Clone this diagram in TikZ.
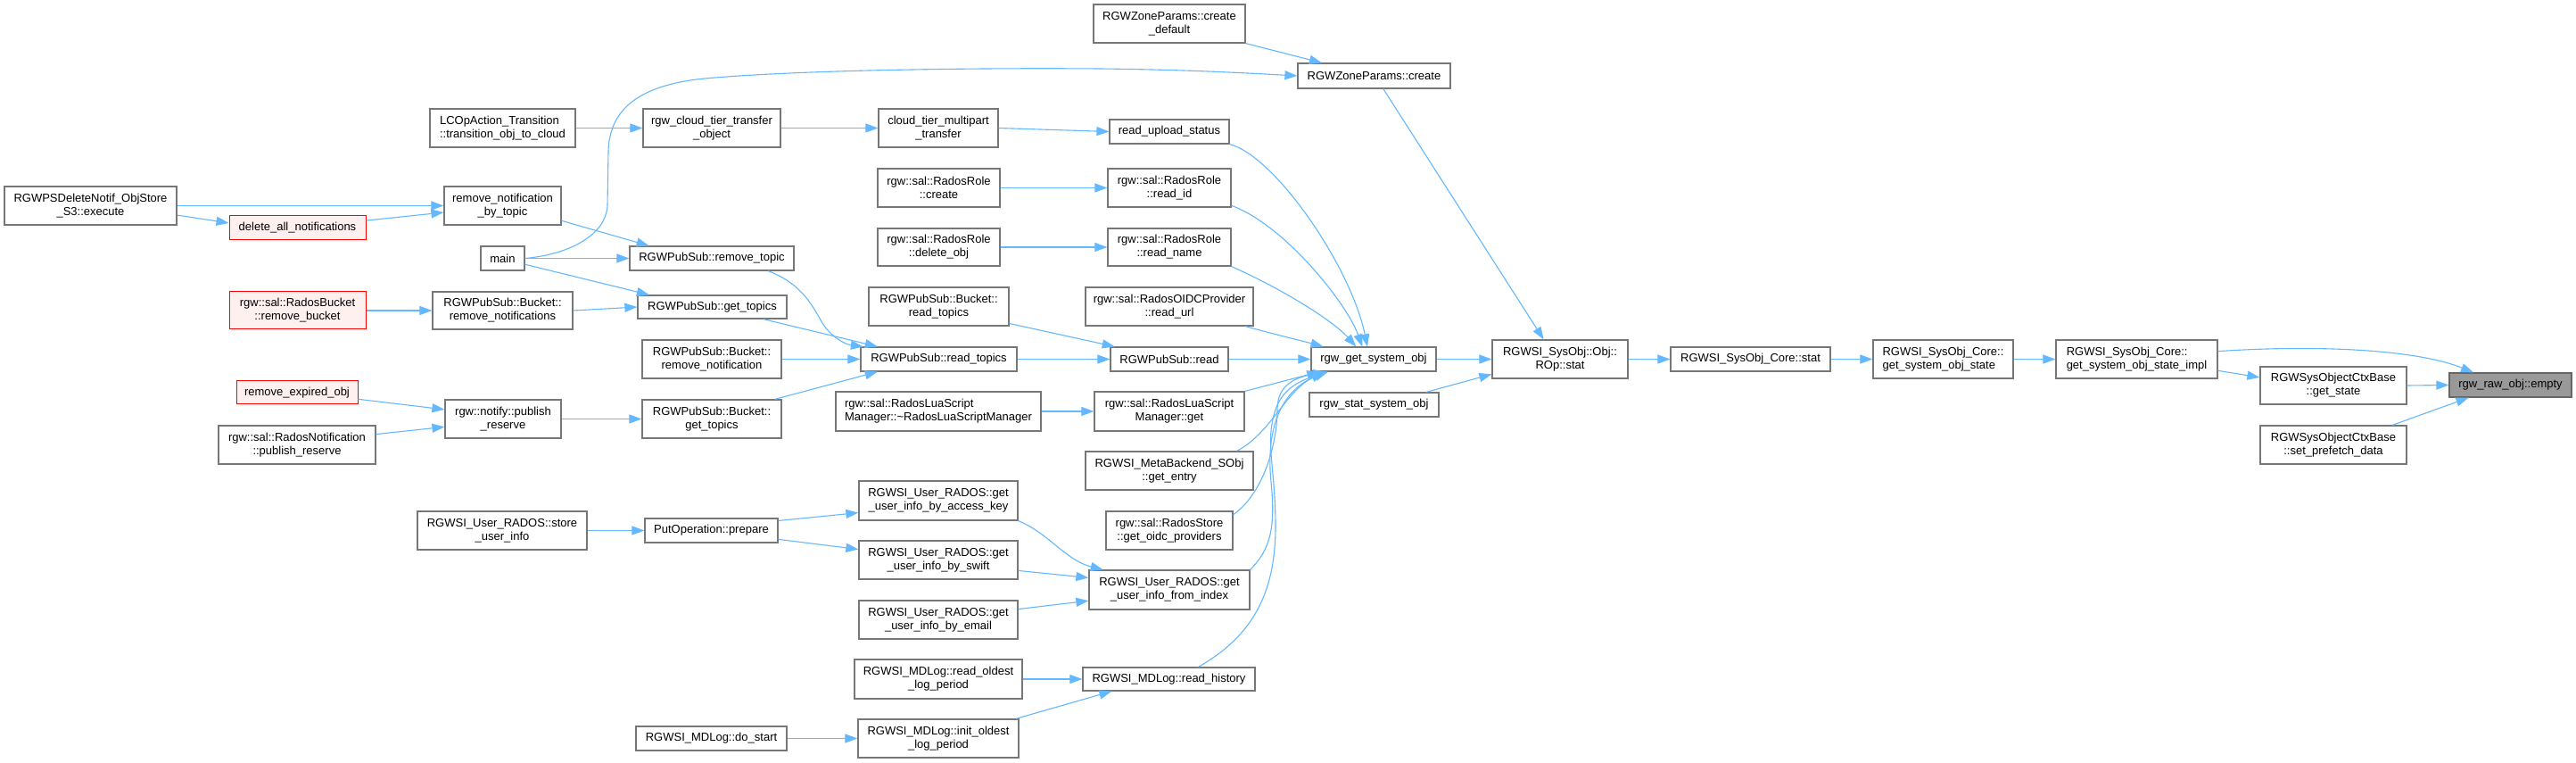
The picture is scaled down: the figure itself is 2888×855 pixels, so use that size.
\documentclass[tikz,border=0pt]{standalone}
\usepackage{fontspec}
\setmainfont{Liberation Sans}
\usetikzlibrary{arrows.meta,calc}
\definecolor{edgeblue}{HTML}{63B8FF}
\definecolor{boxborder}{HTML}{777777}
\definecolor{rootborder}{HTML}{666666}
\definecolor{redfill}{HTML}{FFF0F0}
\definecolor{rootfill}{HTML}{999999}
\newcommand{\mkbox}[7][]{\node[nbox,#1,minimum width={(#5-#3)*0.5pt},minimum height={(#6-#4)*0.5pt}] (#2) at ({(#3+#5)/2},{(#4+#6)/2}) {#7};}
\begin{document}
\begin{tikzpicture}[x=0.5pt,y=-0.5pt,
 nbox/.style={draw=boxborder,fill=white,line width=0.6pt,inner sep=0pt,align=center,font=\fontsize{6.5}{7.5}\selectfont},
 lbox/.style={align=left},
 redbox/.style={draw=red,fill=redfill,line width=0.5pt},
 rootbox/.style={draw=rootborder,fill=rootfill},
 cedge/.style={draw=edgeblue,line width=0.55pt,-{Triangle[length=7pt,width=5pt]}}]
\fill[white] (0,0) rectangle (2888,855);
\useasboundingbox (0,0) rectangle (2888,855);
% column 1
\mkbox{psdel}{5}{209}{198}{252}{RGWPSDeleteNotif\_ObjStore\\\_S3::execute}
% column 2
\mkbox[redbox]{delall}{257}{242}{410}{269}{delete\_all\_notifications}
\mkbox[redbox]{rmbucket}{257}{327}{410}{369}{rgw::sal::RadosBucket\\::remove\_bucket}
\mkbox[redbox]{rmexp}{265}{427}{401}{453}{remove\_expired\_obj}
\mkbox{radnotif}{245}{477}{421}{520}{rgw::sal::RadosNotification\\::publish\_reserve}
% column 3
\mkbox[lbox]{lcop}{482}{122}{645}{165}{LCOpAction\_Transition\\::transition\_obj\_to\_cloud}
\mkbox{rmnbt}{498}{209}{629}{252}{remove\_notification\\\_by\_topic}
\mkbox{main}{539}{276}{588}{303}{main}
\mkbox{psbrmns}{485}{327}{642}{369}{RGWPubSub::Bucket::\\remove\_notifications}
\mkbox{npr}{499}{448}{629}{491}{rgw::notify::publish\\\_reserve}
\mkbox{storeui}{468}{573}{658}{616}{RGWSI\_User\_RADOS::store\\\_user\_info}
% column 4
\mkbox{cttobj}{721}{122}{875}{165}{rgw\_cloud\_tier\_transfer\\\_object}
\mkbox{rmtopic}{706}{276}{890}{303}{RGWPubSub::remove\_topic}
\mkbox{gettopics}{715}{331}{882}{357}{RGWPubSub::get\_topics}
\mkbox{psbrmn}{720}{381}{876}{424}{RGWPubSub::Bucket::\\remove\_notification}
\mkbox{psbgt}{720}{448}{876}{491}{RGWPubSub::Bucket::\\get\_topics}
\mkbox{putop}{723}{581}{872}{608}{PutOperation::prepare}
\mkbox{dostart}{713}{814}{882}{841}{RGWSI\_MDLog::do\_start}
% column 5
\mkbox{ctmp}{985}{122}{1119}{165}{cloud\_tier\_multipart\\\_transfer}
\mkbox{rrcreate}{984}{189}{1121}{232}{rgw::sal::RadosRole\\::create}
\mkbox{rrdel}{984}{256}{1121}{298}{rgw::sal::RadosRole\\::delete\_obj}
\mkbox{psbrt}{974}{322}{1131}{365}{RGWPubSub::Bucket::\\read\_topics}
\mkbox{psrt}{965}{389}{1140}{416}{RGWPubSub::read\_topics}
\mkbox[lbox]{luadtor}{937}{439}{1167}{483}{rgw::sal::RadosLuaScript\\Manager::\textasciitilde RadosLuaScriptManager}
\mkbox{uiak}{963}{539}{1141}{583}{RGWSI\_User\_RADOS::get\\\_user\_info\_by\_access\_key}
\mkbox{uisw}{963}{606}{1141}{649}{RGWSI\_User\_RADOS::get\\\_user\_info\_by\_swift}
\mkbox{uiem}{963}{673}{1141}{716}{RGWSI\_User\_RADOS::get\\\_user\_info\_by\_email}
\mkbox{mdro}{958}{739}{1146}{783}{RGWSI\_MDLog::read\_oldest\\\_log\_period}
\mkbox{mdinit}{962}{806}{1142}{849}{RGWSI\_MDLog::init\_oldest\\\_log\_period}
% column 6
\mkbox{zpcd}{1226}{5}{1396}{48}{RGWZoneParams::create\\\_default}
\mkbox{rus}{1244}{134}{1378}{161}{read\_upload\_status}
\mkbox{rrid}{1242}{189}{1380}{232}{rgw::sal::RadosRole\\::read\_id}
\mkbox{rrname}{1242}{256}{1380}{298}{rgw::sal::RadosRole\\::read\_name}
\mkbox{oidcurl}{1217}{322}{1405}{365}{rgw::sal::RadosOIDCProvider\\::read\_url}
\mkbox{psread}{1245}{389}{1377}{416}{RGWPubSub::read}
\mkbox{luaget}{1227}{439}{1395}{483}{rgw::sal::RadosLuaScript\\Manager::get}
\mkbox{mbget}{1217}{506}{1405}{549}{RGWSI\_MetaBackend\_SObj\\::get\_entry}
\mkbox{oidcprov}{1240}{573}{1382}{616}{rgw::sal::RadosStore\\::get\_oidc\_providers}
\mkbox{uifi}{1221}{639}{1401}{683}{RGWSI\_User\_RADOS::get\\\_user\_info\_from\_index}
\mkbox{mdrh}{1214}{748}{1407}{774}{RGWSI\_MDLog::read\_history}
% column 7+
\mkbox{zpc}{1455}{71}{1626}{99}{RGWZoneParams::create}
\mkbox{rgso}{1470}{389}{1610}{416}{rgw\_get\_system\_obj}
\mkbox{rsso}{1468}{440}{1613}{467}{rgw\_stat\_system\_obj}
\mkbox{ropstat}{1673}{381}{1825}{424}{RGWSI\_SysObj::Obj::\\ROp::stat}
\mkbox{corestat}{1873}{389}{2052}{416}{RGWSI\_SysObj\_Core::stat}
\mkbox[lbox]{gsos}{2100}{381}{2257}{424}{RGWSI\_SysObj\_Core::\\get\_system\_obj\_state}
\mkbox[lbox]{gsosi}{2305}{381}{2486}{424}{RGWSI\_SysObj\_Core::\\get\_system\_obj\_state\_impl}
\mkbox{ctxgs}{2534}{411}{2698}{453}{RGWSysObjectCtxBase\\::get\_state}
\mkbox{ctxpf}{2534}{477}{2698}{520}{RGWSysObjectCtxBase\\::set\_prefetch\_data}
\mkbox[rootbox]{empty}{2746}{418}{2883}{445}{rgw\_raw\_obj::empty}
% edges
\draw[cedge] (psdel.east) -- (rmnbt.west);
\draw[cedge] ($(psdel.north east)!0.74!(psdel.south east)$) -- ($(delall.north west)!0.3!(delall.south west)$);
\draw[cedge] ($(delall.north east)!0.2!(delall.south east)$) -- ($(rmnbt.north west)!0.67!(rmnbt.south west)$);
\draw[cedge] (lcop.east) -- (cttobj.west);
\draw[cedge] ($(rmnbt.north east)!0.88!(rmnbt.south east)$) -- ($(rmtopic.north west)!0.12!(rmtopic.north east)$);
\draw[cedge] (main.east) .. controls (640,285) and (680,262) .. (681,230) -- (682,170) .. controls (683,120) and (720,95) .. (790,88) .. controls (900,78) and (1100,76) .. (1232,77) .. controls (1330,78) and (1400,82) .. (zpc.west);
\draw[cedge] (main.east) -- (rmtopic.west);
\draw[cedge] ($(main.north east)!0.74!(main.south east)$) -- ($(gettopics.north west)!0.08!(gettopics.north east)$);
\draw[cedge] (rmbucket.east) -- (psbrmns.west);
\draw[cedge] (psbrmns.east) -- (gettopics.west);
\draw[cedge] ($(rmexp.north east)!0.77!(rmexp.south east)$) -- ($(npr.north west)!0.26!(npr.south west)$);
\draw[cedge] ($(radnotif.north east)!0.23!(radnotif.south east)$) -- ($(npr.north west)!0.7!(npr.south west)$);
\draw[cedge] (npr.east) -- (psbgt.west);
\draw[cedge] (storeui.east) -- (putop.west);
\draw[cedge] (dostart.east) -- (mdinit.west);
\draw[cedge] (cttobj.east) -- (ctmp.west);
\draw[cedge] (ctmp.east) -- (rus.west);
\draw[cedge] (zpcd.south east) -- ($(zpc.north west)!0.16!(zpc.north east)$);
\draw[cedge] (rrcreate.east) -- (rrid.west);
\draw[cedge] (rrdel.east) -- (rrname.west);
\draw[cedge] ($(rmtopic.south west)!0.84!(rmtopic.south east)$) .. controls (900,318) and (912,345) .. (922,362) .. controls (932,378) and (948,386) .. ($(psrt.north west)!0.02!(psrt.north east)$);
\draw[cedge] ($(gettopics.south west)!0.84!(gettopics.south east)$) -- ($(psrt.north west)!0.11!(psrt.north east)$);
\draw[cedge] (psbrmn.east) -- (psrt.west);
\draw[cedge] ($(psbgt.north west)!0.95!(psbgt.north east)$) -- ($(psrt.south west)!0.11!(psrt.south east)$);
\draw[cedge] ($(psbrt.north east)!0.93!(psbrt.south east)$) -- ($(psread.north west)!0.04!(psread.north east)$);
\draw[cedge] (psrt.east) -- (psread.west);
\draw[cedge] (luadtor.east) -- (luaget.west);
\draw[cedge] ($(putop.north east)!0.11!(putop.south east)$) -- ($(uiak.north west)!0.8!(uiak.south west)$);
\draw[cedge] ($(putop.north east)!0.85!(putop.south east)$) -- ($(uisw.north west)!0.23!(uisw.south west)$);
\draw[cedge] (uiak.south east) .. controls (1175,597) and (1195,628) .. ($(uifi.north west)!0.09!(uifi.north east)$);
\draw[cedge] ($(uisw.north east)!0.77!(uisw.south east)$) -- ($(uifi.north west)!0.2!(uifi.south west)$);
\draw[cedge] ($(uiem.north east)!0.23!(uiem.south east)$) -- ($(uifi.north west)!0.77!(uifi.south west)$);
\draw[cedge] (mdro.east) -- (mdrh.west);
\draw[cedge] ($(mdinit.north west)!0.98!(mdinit.north east)$) -- ($(mdrh.south west)!0.17!(mdrh.south east)$);
\draw[cedge] (psread.east) -- (rgso.west);
\draw[cedge] (rus.south east) .. controls (1430,175) and (1515,300) .. ($(rgso.north west)!0.45!(rgso.north east)$);
\draw[cedge] ($(rrid.north east)!0.95!(rrid.south east)$) .. controls (1440,252) and (1510,340) .. ($(rgso.north west)!0.41!(rgso.north east)$);
\draw[cedge] (rrname.south east) .. controls (1440,325) and (1495,360) .. ($(rgso.north west)!0.36!(rgso.north east)$);
\draw[cedge] ($(oidcurl.south west)!0.95!(oidcurl.south east)$) .. controls (1430,375) and (1460,382) .. ($(rgso.north west)!0.1!(rgso.north east)$);
\draw[cedge] (luaget.north east) -- ($(rgso.south west)!0.07!(rgso.south east)$);
\draw[cedge] ($(mbget.north west)!0.9!(mbget.north east)$) .. controls (1425,485) and (1440,440) .. ($(rgso.south west)!0.1!(rgso.south east)$);
\draw[cedge] ($(oidcprov.north east)!0.1!(oidcprov.south east)$) .. controls (1420,550) and (1432,490) .. (1432,460) .. controls (1432,440) and (1440,425) .. ($(rgso.south west)!0.12!(rgso.south east)$);
\draw[cedge] (uifi.north east) .. controls (1425,615) and (1430,590) .. (1425,540) .. controls (1420,490) and (1430,440) .. ($(rgso.south west)!0.13!(rgso.south east)$);
\draw[cedge] ($(mdrh.north west)!0.67!(mdrh.north east)$) .. controls (1400,715) and (1430,670) .. (1430,590) .. controls (1430,530) and (1420,500) .. (1427,470) .. controls (1432,445) and (1445,430) .. ($(rgso.south west)!0.14!(rgso.south east)$);
\draw[cedge] (rgso.east) -- (ropstat.west);
\draw[cedge] ($(rsso.north west)!0.9!(rsso.north east)$) -- ($(ropstat.north west)!0.88!(ropstat.south west)$);
\draw[cedge] ($(zpc.south west)!0.56!(zpc.south east)$) -- ($(ropstat.north west)!0.38!(ropstat.north east)$);
\draw[cedge] (ropstat.east) -- (corestat.west);
\draw[cedge] (corestat.east) -- (gsos.west);
\draw[cedge] (gsos.east) -- (gsosi.west);
\draw[cedge] ($(gsosi.north east)!0.3!(gsosi.south east)$) .. controls (2600,386) and (2710,392) .. ($(empty.north west)!0.2!(empty.north east)$);
\draw[cedge] ($(gsosi.north east)!0.79!(gsosi.south east)$) -- ($(ctxgs.north west)!0.29!(ctxgs.south west)$);
\draw[cedge] (ctxgs.east) -- (empty.west);
\draw[cedge] ($(ctxpf.north west)!0.9!(ctxpf.north east)$) -- ($(empty.south west)!0.16!(empty.south east)$);
\end{tikzpicture}
\end{document}
